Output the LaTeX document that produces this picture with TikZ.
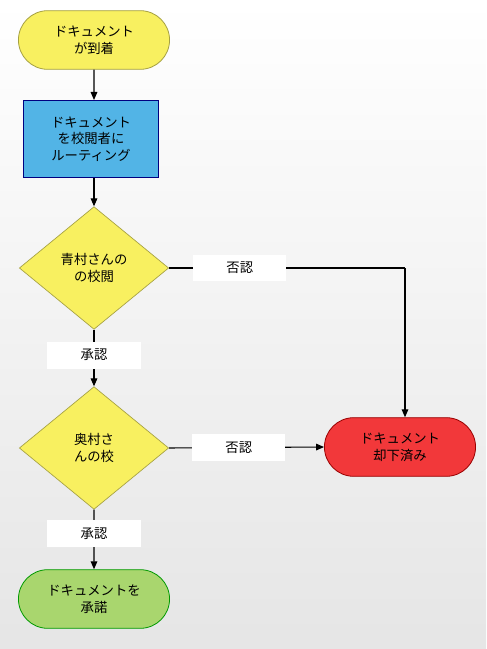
\documentclass[tikz,border=0pt]{standalone}
\usepackage{fontspec}
\setmainfont{Noto Sans CJK JP}
\usetikzlibrary{shapes.geometric,shapes.misc,arrows.meta}
\definecolor{bluebox}{HTML}{52B4E6}
\definecolor{greenbox}{HTML}{A9D66E}
\definecolor{redbox}{HTML}{F2383A}
\definecolor{yel}{HTML}{F8F060}
\begin{document}
\begin{tikzpicture}[x=0.75pt,y=-0.75pt,
 txt/.style={font=\fontsize{10}{12.5}\selectfont,align=center,text=black},
 stad/.style={txt,rounded rectangle,minimum width=120pt,minimum height=44pt,draw=#1!60!black,line width=0.6pt},
 dia/.style={txt,diamond,aspect=1.25,minimum width=112pt,minimum height=92pt,inner sep=0pt,draw=yellow!60!black,line width=0.5pt,fill=yel},
 lab/.style={txt,fill=white,minimum width=70pt,minimum height=20pt,inner sep=1pt},
 arr/.style={-{Triangle[length=6pt,width=5pt]},line width=0.8pt,black}]
\shade[top color=white,bottom color=black!10] (0,0) rectangle (486,649);
\useasboundingbox (0,0) rectangle (486,649);
\node[stad=yellow,fill=yel] (s) at (94,40) {ドキュメント\\が到着};
\node[txt,draw=blue!50!black,fill=bluebox,minimum width=101pt,minimum height=58pt,line width=0.5pt] (r) at (91,139) {ドキュメント\\を校閲者に\\ルーティング};
\node[dia] (d1) at (94,268) {青村さんの\\の校閲};
\node[dia] (d2) at (94,448) {奥村さ\\んの校};
\node[stad=green,fill=greenbox] (g) at (94,599) {ドキュメントを\\承諾};
\node[stad=red,fill=redbox] (x) at (400,447) {ドキュメント\\却下済み};
\coordinate (c) at (405,268);
\draw[arr] (s) -- (s.south |- r.north);
\draw[arr] (r.south -| d1) -- (d1);
\draw[arr] (d1) -- (d2) node[lab,pos=0.45] {承認};
\draw[arr] (d2) -- (g) node[lab,pos=0.4] {承認};
\draw[line width=0.8pt] (d1.east) -- (c) node[lab,pos=0.3] {否認};
\draw[arr] (c) -- (x.north -| c);
\draw[arr] (d2.east) -- (x.west) node[lab,pos=0.45] {否認};
\end{tikzpicture}
\end{document}
